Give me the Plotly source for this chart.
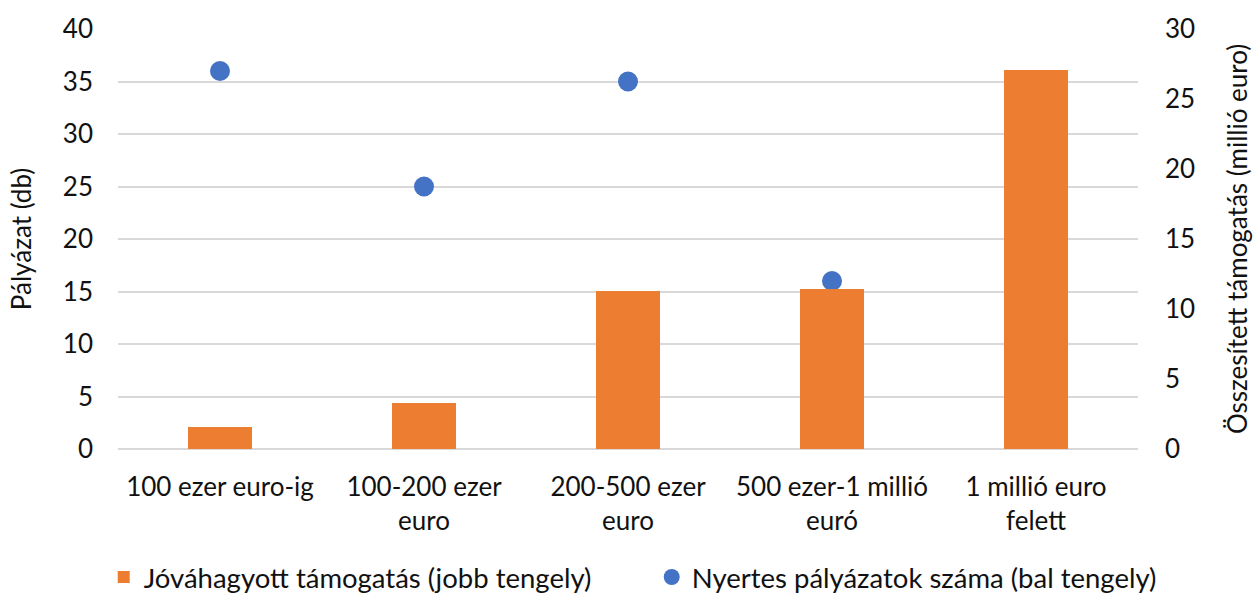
import plotly.graph_objects as go

categories = ["100 ezer euro-ig", "100-200 ezer<br>euro", "200-500 ezer<br>euro",
              "500 ezer-1 millió<br>euró", "1 millió euro<br>felett"]
tamogatas = [1.6, 3.3, 11.3, 11.4, 27.1]   # right axis, million euro
nyertes = [36, 25, 35, 16, 18]              # left axis, count

FONT = "Lato"
TXT = "#111111"
FS = 26

fig = go.Figure()
fig.add_trace(go.Bar(
    x=categories, y=tamogatas, yaxis="y2",
    name="Jóváhagyott támogatás (jobb tengely)",
    marker=dict(color="#ED7D31", line=dict(width=0)),
    width=0.314,
))
fig.add_trace(go.Scatter(
    x=categories, y=nyertes, yaxis="y",
    mode="markers", name="Nyertes pályázatok száma (bal tengely)",
    marker=dict(color="#4472C4", size=20),
))

fig.update_layout(
    width=1253, height=594,
    margin=dict(l=118, r=115, t=29, b=145, autoexpand=False),
    paper_bgcolor="white", plot_bgcolor="white",
    font=dict(family=FONT, size=FS, color=TXT),
    xaxis=dict(showgrid=False, showline=False, ticks="", tickfont=dict(size=FS),
               range=[-0.5, 4.5], tickangle=0, ticklabelstandoff=20),
    yaxis=dict(range=[0, 40], dtick=5, showgrid=True, gridcolor="#D9D9D9", gridwidth=1.5,
               zeroline=True, zerolinecolor="#D9D9D9", zerolinewidth=1.5,
               showline=False, ticks="", ticklabelstandoff=24,
               title=dict(text="Pályázat (db)", font=dict(size=FS), standoff=23)),
    yaxis2=dict(range=[0, 30], dtick=5, overlaying="y", side="right", showgrid=False,
                zeroline=False, showline=False, ticks="", ticklabelstandoff=26,
                title=dict(text="Összesített támogatás (millió euro)", font=dict(size=FS), standoff=35)),
    showlegend=True,
    legend=dict(orientation="h", x=-0.014, xanchor="left", y=-0.305, yanchor="middle",
                font=dict(size=27.5), entrywidth=503, entrywidthmode="pixels",
                itemwidth=30, bgcolor="rgba(0,0,0,0)", traceorder="normal"),
    bargap=0,
)

fig.write_html("out.html", config={"displayModeBar": False},
               post_script="document.body.style.margin='0';document.body.style.overflow='hidden';")
